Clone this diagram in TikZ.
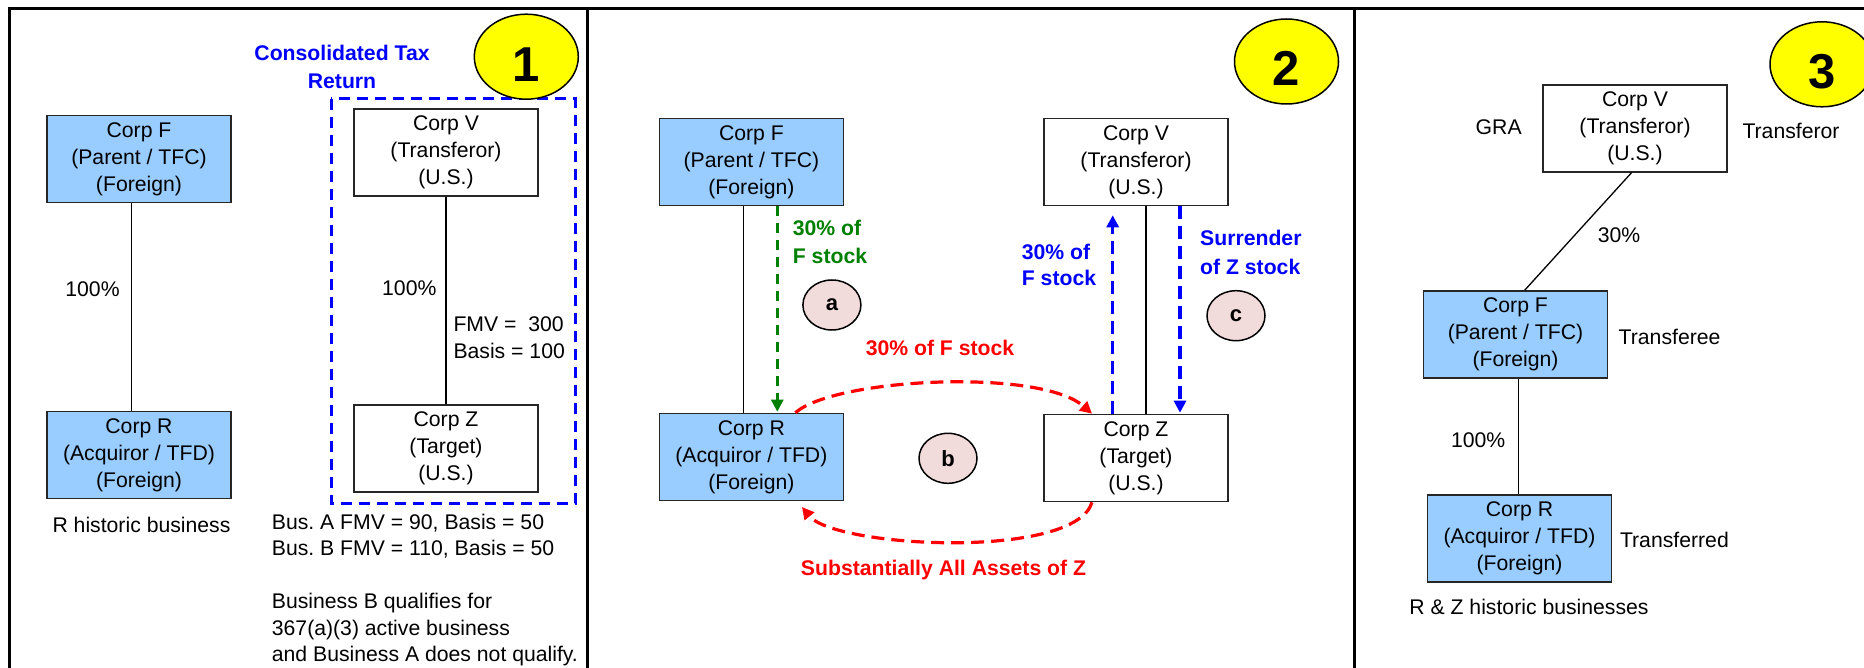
\documentclass[tikz,border=0pt]{standalone}
\usepackage{fontspec}
\setmainfont{Liberation Sans}
\usetikzlibrary{arrows.meta,shapes.geometric}
\definecolor{boxblue}{HTML}{99CCFF}
\definecolor{pinkc}{HTML}{F2DCDB}
\definecolor{darkgreen}{HTML}{008000}
\definecolor{myblue}{HTML}{0000FF}
\definecolor{myred}{HTML}{FF0000}
\definecolor{myyellow}{HTML}{FFFF00}
\frenchspacing
\begin{document}
\begin{tikzpicture}[x=1pt,y=-1pt,
  every node/.style={font=\fontsize{21.2}{27}\selectfont, inner sep=0pt},
  corp/.style={draw=black!85, line width=1.6pt, rectangle, minimum width=184pt, minimum height=87pt, align=center},
  forcorp/.style={corp, fill=boxblue},
  uscorp/.style={corp, fill=white},
  txt/.style={anchor=base},
  ltxt/.style={anchor=base west},
  btxt/.style={font=\fontsize{21.2}{27}\selectfont\bfseries},
  link/.style={line width=1.3pt, black},
  frame/.style={line width=3pt, black},
  stepnum/.style={ellipse, draw=black, line width=1.5pt, fill=myyellow, minimum width=104pt, minimum height=85pt, font=\fontsize{49}{50}\selectfont\bfseries, text height=49pt, text depth=0pt},
  substep/.style={ellipse, draw=black, line width=1.5pt, fill=pinkc, minimum width=58pt, minimum height=50pt, font=\fontsize{22}{24}\selectfont\bfseries},
  flow/.style={line width=3.2pt, dash pattern=on 13pt off 7pt, -{Triangle[length=12pt,width=12pt]}},
]
\useasboundingbox (0,0) rectangle (1864,668);
\fill[white] (0,0) rectangle (1864,668);

% frame and panel dividers
\draw[frame] (1864,9) -- (9,9) -- (9,668);
\draw[frame] (587.5,9) -- (587.5,668);
\draw[frame] (1354,9) -- (1354,668);

% ---------------- Panel 1 ----------------
\draw[myblue, line width=3pt, dash pattern=on 11pt off 7pt] (331,99) rectangle (575.3,503.3);
\node[btxt, txt, text=myblue] (ctr1) at (342,60.9) {Consolidated Tax};
\node[btxt, txt, text=myblue] (ctr2) at (342,88.6) {Return};
\node[stepnum] (n1) at (526.3,56.7) {1};

\node[forcorp] (F1) at (139,159) {Corp F\\(Parent / TFC)\\(Foreign)};
\node[forcorp] (R1) at (139,455) {Corp R\\(Acquiror / TFD)\\(Foreign)};
\node[uscorp] (V1) at (446,152.5) {Corp V\\(Transferor)\\(U.S.)};
\node[uscorp] (Z1) at (446,448.7) {Corp Z\\(Target)\\(U.S.)};

\draw[link] ([xshift=-7.4pt]F1.south) -- ([xshift=-7.4pt]R1.north);
\draw[link] (V1.south) -- (Z1.north);

\node[txt] (p1a) at (92.5,296.6) {100\%};
\node[txt] (p1b) at (409.3,296) {100\%};
\node[ltxt] (fmv1) at (453.3,331.6) {FMV = \ 300};
\node[ltxt] (bas1) at (453.3,358.3) {Basis = 100};
\node[txt] (rhist) at (141.5,532.6) {R historic business};
\node[ltxt] (busa) at (271.7,529.3) {Bus. A FMV = 90, Basis = 50};
\node[ltxt] (busb) at (271.7,555.9) {Bus. B FMV = 110, Basis = 50};
\node[ltxt] (q1) at (271.7,608.6) {Business B qualifies for};
\node[ltxt] (q2) at (271.7,635.2) {367(a)(3) active business};
\node[ltxt] (q3) at (271.7,661.4) {and Business A does not qualify.};

% ---------------- Panel 2 ----------------
\node[stepnum] (n2) at (1286.5,61.5) {2};
\node[forcorp] (F2) at (751.4,162) {Corp F\\(Parent / TFC)\\(Foreign)};
\node[forcorp] (R2) at (751.4,457) {Corp R\\(Acquiror / TFD)\\(Foreign)};
\node[uscorp] (V2) at (1136,162) {Corp V\\(Transferor)\\(U.S.)};
\node[uscorp] (Z2) at (1136,458) {Corp Z\\(Target)\\(U.S.)};

\draw[link] ([xshift=-7.7pt]F2.south) -- ([xshift=-7.7pt]R2.north);
\draw[link] ([xshift=10pt]V2.south) -- ([xshift=10pt]Z2.north);

\draw[flow, darkgreen, line width=2.7pt, dash pattern=on 10pt off 7pt, shorten >=1pt] ([xshift=25.9pt]F2.south) -- ([xshift=25.9pt]R2.north);
\draw[flow, myblue, shorten >=9pt] ([xshift=-23.3pt]Z2.north) -- ([xshift=-23.3pt]V2.south);
\draw[flow, myblue, shorten >=1pt] ([xshift=44pt]V2.south) -- ([xshift=44pt]Z2.north);
\draw[flow, myred] ([xshift=44pt]R2.north) .. controls (835,378) and (1040,368) .. ([xshift=-44pt]Z2.north);
\draw[flow, myred] ([xshift=-44pt]Z2.south) .. controls (1075,560) and (835,548) .. ([xshift=50.6pt,yshift=-5.7pt]R2.south);

\node[btxt, ltxt, text=darkgreen] (g1) at (792.7,235.9) {30\% of};
\node[btxt, ltxt, text=darkgreen] (g2) at (792.7,263.6) {F stock};
\node[btxt, ltxt, text=myblue] (b1) at (1021.7,259.3) {30\% of};
\node[btxt, ltxt, text=myblue] (b2) at (1021.7,285.9) {F stock};
\node[btxt, ltxt, text=myblue] (s1) at (1200,245.9) {Surrender};
\node[btxt, ltxt, text=myblue] (s2) at (1200,274.3) {of Z stock};
\node[btxt, txt, text=myred] (r1) at (940,355.9) {30\% of F stock};
\node[btxt, txt, text=myred] (r2) at (943.5,575.9) {Substantially All Assets of Z};

\node[substep] (ca) at (831.9,305) {a};
\node[substep] (cb) at (948,458.3) {b};
\node[substep] (cc) at (1236,315.7) {c};

% ---------------- Panel 3 ----------------
\node[stepnum] (n3) at (1822,64.3) {3};
\node[uscorp] (V3) at (1635,128.3) {Corp V\\(Transferor)\\(U.S.)};
\node[forcorp] (F3) at (1515.5,334.5) {Corp F\\(Parent / TFC)\\(Foreign)};
\node[forcorp] (R3) at (1519.5,538.7) {Corp R\\(Acquiror / TFD)\\(Foreign)};

\draw[link] ([xshift=-3.4pt]V3.south) -- ([xshift=9.2pt]F3.north);
\draw[link] ([xshift=3.1pt]F3.south) -- ([xshift=-0.9pt]R3.north);

\node[txt] (gra) at (1498.7,134.3) {GRA};
\node[ltxt] (tor) at (1742.3,138.6) {Transferor};
\node[txt] (p30) at (1619,242.6) {30\%};
\node[ltxt] (tee) at (1618.5,344.9) {Transferee};
\node[txt] (p100) at (1478.2,447.6) {100\%};
\node[ltxt] (tred) at (1619.8,547.6) {Transferred};
\node[txt] (rzhist) at (1529,614.3) {R \& Z historic businesses};
\end{tikzpicture}
\end{document}
